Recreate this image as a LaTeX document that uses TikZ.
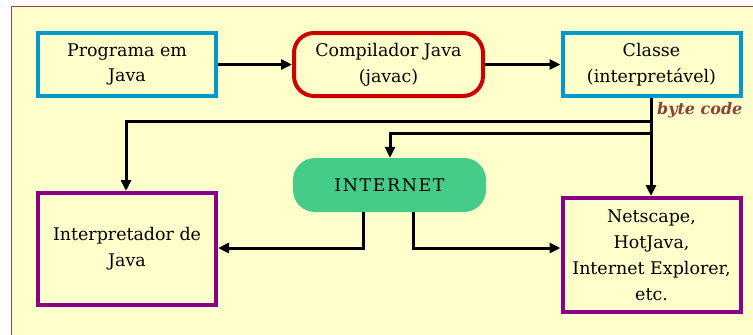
\documentclass[tikz,border=0pt]{standalone}
\usepackage{fontspec}
\setmainfont{DejaVu Serif}
\usetikzlibrary{arrows.meta}
\definecolor{cream}{HTML}{FFFFCC}
\definecolor{framec}{HTML}{994466}
\definecolor{boxblue}{HTML}{0099CC}
\definecolor{boxred}{HTML}{CC0000}
\definecolor{boxpurple}{HTML}{880088}
\definecolor{pillgreen}{HTML}{44CC88}
\definecolor{bytec}{HTML}{8B4040}
\tikzset{
  every node/.style={font=\fontsize{17.5}{26}\selectfont, align=center, inner sep=0pt, text=black},
  bluebox/.style={draw=boxblue, line width=4bp, fill=cream, minimum width=178bp, minimum height=63bp},
  redbox/.style={draw=boxred, line width=4bp, fill=cream, rounded corners=20bp, minimum width=189bp, minimum height=63bp},
  purplebox/.style={draw=boxpurple, line width=4bp, fill=cream, minimum width=178bp},
  pill/.style={fill=pillgreen, rounded corners=22bp, minimum width=193bp, minimum height=54bp},
  conn/.style={draw=black, line width=3bp, -{Triangle[length=11bp,width=10bp]}},
}
\begin{document}
\begin{tikzpicture}[x=1bp,y=-1bp]
\useasboundingbox (0,0) rectangle (753,334);
\fill[white] (0,0) rectangle (753,334);
\draw[framec, fill=cream, line width=1bp] (11.5,6.5) rectangle (770,350);

\node[bluebox] (prog) at (127,64.5) {Programa em\\Java};
\node[redbox] (comp) at (388.5,64.5) {Compilador Java\\(javac)};
\node[bluebox] (classe) at (651.5,64.5) {Classe\\(interpretável)};
\node[font=\fontsize{16}{18}\selectfont\bfseries\itshape, text=bytec, anchor=west] (bc) at (657,110) {byte code};

\node[pill] (net) at (389.5,185) {\addfontfeature{LetterSpace=9}INTERNET};
\node[purplebox, minimum height=112bp] (interp) at (127,249) {Interpretador de\\Java};
\node[purplebox, minimum height=114bp] (nets) at (651.5,255) {Netscape,\\HotJava,\\Internet Explorer,\\etc.};

\coordinate (b1) at (651,121);
\coordinate (b2) at (651,133);
\coordinate (c1) at (126,121);
\coordinate (c2) at (390,133);
\coordinate (n1) at (363,212);
\coordinate (n2) at (413,212);
\coordinate (l1) at (363,248);
\coordinate (r1) at (413,248);

\draw[conn] (prog.east) -- (comp.west);
\draw[conn] (comp.east) -- (classe.west);
\draw[conn] (classe.south -| b1) -- (nets.north -| b1);
\draw[conn] (b1) -- (c1) -- (interp.north -| c1);
\draw[conn] (b2) -- (c2) -- (net.north -| c2);
\draw[conn] (net.south -| n1) -- (l1) -- (interp.east |- l1);
\draw[conn] (net.south -| n2) -- (r1) -- (nets.west |- r1);
\end{tikzpicture}
\end{document}
